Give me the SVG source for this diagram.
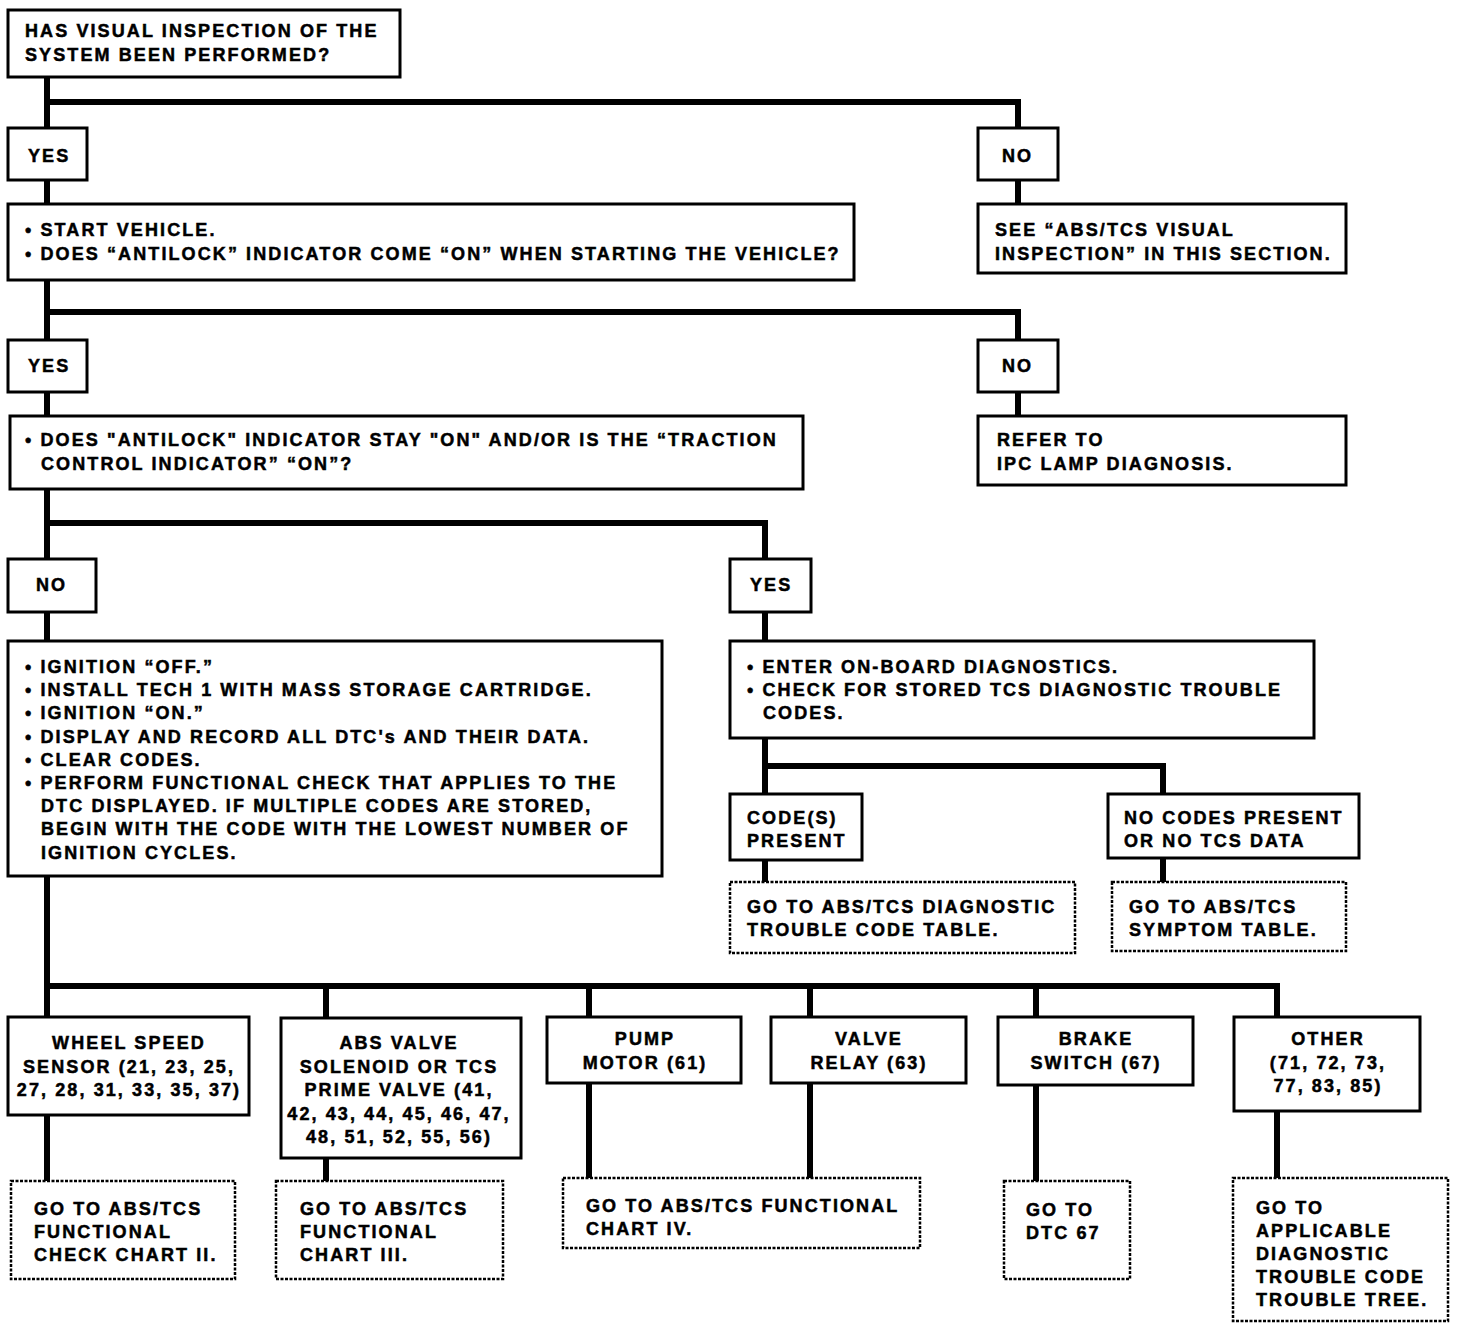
<svg xmlns="http://www.w3.org/2000/svg" width="1472" height="1330" viewBox="0 0 1472 1330">
<style>
.b{fill:#fff;stroke:#000;stroke-width:3}
.d{fill:#fff;stroke:#000;stroke-width:2.5;stroke-dasharray:3 1.5}
.c{fill:none;stroke:#000;stroke-width:6}
text{font-family:"Liberation Sans",Arial,sans-serif;font-weight:bold;font-size:18px;letter-spacing:2.1px;fill:#000;stroke:#000;stroke-width:0.5}
.m{text-anchor:middle}
</style>
<rect width="1472" height="1330" fill="#fff"/>
<g id="connectors">
<path class="c" d="M47 77V128M47 102H1018V128"/>
<path class="c" d="M47 180V204M1018 180V204"/>
<path class="c" d="M47 280V340M47 312H1018V340"/>
<path class="c" d="M47 392V416M1018 392V416"/>
<path class="c" d="M47 489V559M47 523H765V559"/>
<path class="c" d="M47 612V641M765 612V641"/>
<path class="c" d="M765 738V794M765 766H1163V794"/>
<path class="c" d="M765 860V882M1163 858V882"/>
<path class="c" d="M47 876V1017M47 986H1277V1017M326 986V1018M589 986V1017M810 986V1017M1036 986V1017"/>
<path class="c" d="M47 1115V1181M326 1158V1181M589 1083V1179M810 1083V1179M1036 1085V1181M1277 1111V1179"/>
</g>
<g id="n1"><rect class="b" x="8" y="10" width="392" height="67"/>
<text x="25" y="37">HAS VISUAL INSPECTION OF THE</text><text x="25" y="61">SYSTEM BEEN PERFORMED?</text></g>
<g id="n2"><rect class="b" x="8" y="128" width="79" height="52"/><text x="28" y="162">YES</text></g>
<g id="n3"><rect class="b" x="978" y="128" width="80" height="52"/><text x="1002" y="162">NO</text></g>
<g id="n4"><rect class="b" x="8" y="204" width="846" height="76"/>
<text x="25" y="236">• START VEHICLE.</text><text x="25" y="260">• DOES “ANTILOCK” INDICATOR COME “ON” WHEN STARTING THE VEHICLE?</text></g>
<g id="n5"><rect class="b" x="978" y="204" width="368" height="69"/>
<text x="995" y="236">SEE “ABS/TCS VISUAL</text><text x="995" y="260">INSPECTION” IN THIS SECTION.</text></g>
<g id="n6"><rect class="b" x="8" y="340" width="79" height="52"/><text x="28" y="372">YES</text></g>
<g id="n7"><rect class="b" x="978" y="340" width="80" height="52"/><text x="1002" y="372">NO</text></g>
<g id="n8"><rect class="b" x="10" y="416" width="793" height="73"/>
<text x="25" y="446">• DOES "ANTILOCK" INDICATOR STAY "ON" AND/OR IS THE “TRACTION</text><text x="41" y="470">CONTROL INDICATOR” “ON”?</text></g>
<g id="n9"><rect class="b" x="978" y="416" width="368" height="69"/>
<text x="997" y="446">REFER TO</text><text x="997" y="470">IPC LAMP DIAGNOSIS.</text></g>
<g id="n10"><rect class="b" x="8" y="559" width="88" height="53"/><text x="36" y="591">NO</text></g>
<g id="n11"><rect class="b" x="730" y="559" width="81" height="53"/><text x="750" y="591">YES</text></g>
<g id="n12"><rect class="b" x="8" y="641" width="654" height="235"/>
<text x="25" y="673">• IGNITION “OFF.”</text>
<text x="25" y="696">• INSTALL TECH 1 WITH MASS STORAGE CARTRIDGE.</text>
<text x="25" y="719">• IGNITION “ON.”</text>
<text x="25" y="743">• DISPLAY AND RECORD ALL DTC's AND THEIR DATA.</text>
<text x="25" y="766">• CLEAR CODES.</text>
<text x="25" y="789">• PERFORM FUNCTIONAL CHECK THAT APPLIES TO THE</text>
<text x="41" y="812">DTC DISPLAYED. IF MULTIPLE CODES ARE STORED,</text>
<text x="41" y="835">BEGIN WITH THE CODE WITH THE LOWEST NUMBER OF</text>
<text x="41" y="859">IGNITION CYCLES.</text></g>
<g id="n13"><rect class="b" x="730" y="641" width="584" height="97"/>
<text x="747" y="673">• ENTER ON-BOARD DIAGNOSTICS.</text>
<text x="747" y="696">• CHECK FOR STORED TCS DIAGNOSTIC TROUBLE</text>
<text x="763" y="719">CODES.</text></g>
<g id="n14"><rect class="b" x="730" y="794" width="132" height="66"/>
<text x="747" y="824">CODE(S)</text><text x="747" y="847">PRESENT</text></g>
<g id="n15"><rect class="b" x="1108" y="794" width="251" height="64"/>
<text x="1124" y="824">NO CODES PRESENT</text><text x="1124" y="847">OR NO TCS DATA</text></g>
<g id="n16"><rect class="d" x="730" y="882" width="345" height="71"/>
<text x="747" y="913">GO TO ABS/TCS DIAGNOSTIC</text><text x="747" y="936">TROUBLE CODE TABLE.</text></g>
<g id="n17"><rect class="d" x="1112" y="882" width="234" height="69"/>
<text x="1129" y="913">GO TO ABS/TCS</text><text x="1129" y="936">SYMPTOM TABLE.</text></g>
<g id="n18"><rect class="b" x="8" y="1017" width="241" height="98"/>
<text class="m" x="129" y="1049">WHEEL SPEED</text><text class="m" x="129" y="1073">SENSOR (21, 23, 25,</text><text class="m" x="129" y="1096">27, 28, 31, 33, 35, 37)</text></g>
<g id="n19"><rect class="b" x="281" y="1018" width="240" height="140"/>
<text class="m" x="399" y="1049">ABS VALVE</text><text class="m" x="399" y="1073">SOLENOID OR TCS</text><text class="m" x="399" y="1096">PRIME VALVE (41,</text><text class="m" x="399" y="1120">42, 43, 44, 45, 46, 47,</text><text class="m" x="399" y="1143">48, 51, 52, 55, 56)</text></g>
<g id="n20"><rect class="b" x="547" y="1017" width="194" height="66"/>
<text class="m" x="645" y="1045">PUMP</text><text class="m" x="645" y="1069">MOTOR (61)</text></g>
<g id="n21"><rect class="b" x="771" y="1017" width="195" height="66"/>
<text class="m" x="869" y="1045">VALVE</text><text class="m" x="869" y="1069">RELAY (63)</text></g>
<g id="n22"><rect class="b" x="998" y="1017" width="195" height="68"/>
<text class="m" x="1096" y="1045">BRAKE</text><text class="m" x="1096" y="1069">SWITCH (67)</text></g>
<g id="n23"><rect class="b" x="1234" y="1017" width="186" height="94"/>
<text class="m" x="1328" y="1045">OTHER</text><text class="m" x="1328" y="1069">(71, 72, 73,</text><text class="m" x="1328" y="1092">77, 83, 85)</text></g>
<g id="n24"><rect class="d" x="11" y="1181" width="224" height="98"/>
<text x="34" y="1215">GO TO ABS/TCS</text><text x="34" y="1238">FUNCTIONAL</text><text x="34" y="1261">CHECK CHART II.</text></g>
<g id="n25"><rect class="d" x="276" y="1181" width="227" height="98"/>
<text x="300" y="1215">GO TO ABS/TCS</text><text x="300" y="1238">FUNCTIONAL</text><text x="300" y="1261">CHART III.</text></g>
<g id="n26"><rect class="d" x="563" y="1178" width="357" height="70"/>
<text x="586" y="1212">GO TO ABS/TCS FUNCTIONAL</text><text x="586" y="1235">CHART IV.</text></g>
<g id="n27"><rect class="d" x="1004" y="1181" width="126" height="98"/>
<text x="1026" y="1216">GO TO</text><text x="1026" y="1239">DTC 67</text></g>
<g id="n28"><rect class="d" x="1233" y="1178" width="215" height="143"/>
<text x="1256" y="1214">GO TO</text><text x="1256" y="1237">APPLICABLE</text><text x="1256" y="1260">DIAGNOSTIC</text><text x="1256" y="1283">TROUBLE CODE</text><text x="1256" y="1306">TROUBLE TREE.</text></g>
</svg>
